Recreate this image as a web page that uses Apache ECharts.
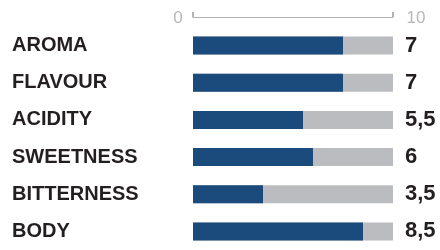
<!DOCTYPE html>
<html><head><meta charset="utf-8">
<script src="https://cdn.jsdelivr.net/npm/echarts@6/dist/echarts.min.js"></script>
<style>html,body{margin:0;padding:0;background:#fff}#c{width:440px;height:250px}</style>
</head><body><div id="c"></div>
<script>
var categories = ['AROMA', 'FLAVOUR', 'ACIDITY', 'SWEETNESS', 'BITTERNESS', 'BODY'];
var barValues = [7.5, 7.5, 5.5, 6, 3.5, 8.5];
var valueLabels = ['7', '7', '5,5', '6', '3,5', '8,5'];
var scaleMin = 0;
var scaleMax = 10;

var chart = echarts.init(document.getElementById('c'), null, {renderer: 'canvas'});
chart.setOption({
  animation: false,
  grid: {left: 193, right: 47, top: 27, bottom: -3},
  xAxis: {
    type: 'value', position: 'top', min: scaleMin, max: scaleMax, interval: 10, offset: 10,
    splitLine: {show: false},
    axisLine: {show: true, lineStyle: {color: '#b3b3b3', width: 1}},
    axisTick: {show: true, length: 5, lineStyle: {color: '#b3b3b3', width: 2}},
    axisLabel: {
      margin: -1, verticalAlign: 'middle',
      formatter: function (v) { return v === scaleMin ? '{a|' + v + '}' : '{b|' + v + '}'; },
      rich: {
        a: {fontFamily: 'Liberation Sans', fontSize: 17, color: '#b8b8b8', padding: [0, 30, 0, 0]},
        b: {fontFamily: 'Liberation Sans', fontSize: 17, color: '#b8b8b8', padding: [0, 0, 0, 46]}
      }
    }
  },
  yAxis: [{
    type: 'category', data: categories, inverse: true,
    axisLine: {show: false}, axisTick: {show: false},
    axisLabel: {align: 'left', margin: 181, fontFamily: 'Liberation Sans', fontWeight: 'bold', fontSize: 20, color: '#231f20', padding: [0, 0, 3, 0]}
  }, {
    type: 'category', data: valueLabels, inverse: true, position: 'right',
    axisLine: {show: false}, axisTick: {show: false},
    axisLabel: {align: 'left', margin: 12, fontFamily: 'Liberation Sans', fontWeight: 'bold', fontSize: 22, color: '#231f20', padding: [4, 0, 0, 0]}
  }],
  series: [{
    type: 'bar', data: barValues, barWidth: 18,
    itemStyle: {color: '#1b4a7d'},
    showBackground: true,
    backgroundStyle: {color: '#bbbcbf'}
  }]
});
</script></body></html>
